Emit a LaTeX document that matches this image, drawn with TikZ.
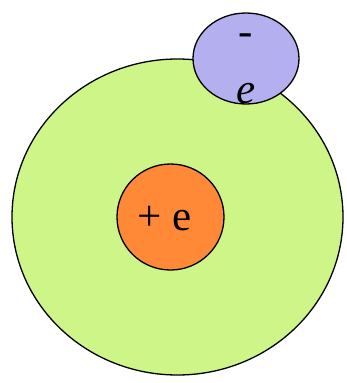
\documentclass[tikz,border=0pt]{standalone}
\usepackage{fontspec}
\setmainfont{Liberation Serif}
\usetikzlibrary{shapes.geometric}
\definecolor{shellgreen}{RGB}{205,245,135}
\definecolor{nucorange}{RGB}{255,137,55}
\definecolor{elecblue}{RGB}{180,176,240}
\begin{document}
\begin{tikzpicture}[x=1pt,y=-1pt,
  blob/.style={ellipse,draw=black,line width=1.3pt,inner sep=0pt},
  big/.style={font=\fontsize{43}{50}\selectfont}]
\useasboundingbox (0,0) rectangle (346,383);
\node[blob,fill=shellgreen,minimum width=331pt,minimum height=316pt] (shell) at (177.5,217) {};
\node[blob,fill=nucorange,minimum width=107pt,minimum height=106pt] (nucleus) at (170.5,217) {};
\node[big] (plus) at (165,219) {+ e};
\node[blob,fill=elecblue,minimum width=106pt,minimum height=91pt] (electron) at (246,58.5) {};
\node[big,anchor=base] (minus) at (246,45) {-};
\node[big,anchor=base] (esym) at (246,103) {\itshape e};
\end{tikzpicture}
\end{document}
